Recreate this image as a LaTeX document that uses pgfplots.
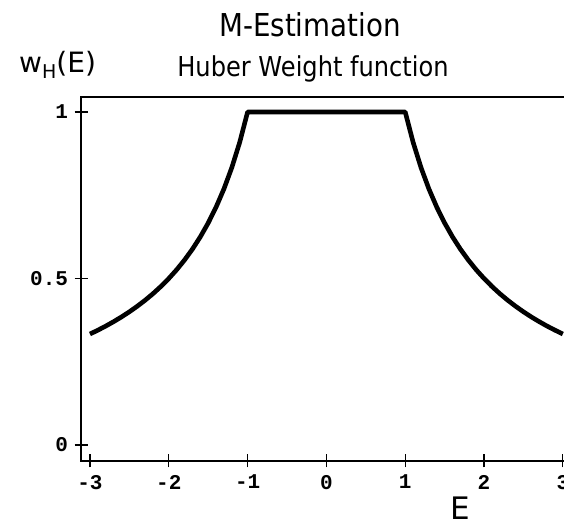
\documentclass[border=0pt]{standalone}
\usepackage{fontspec}
\setmainfont{DejaVu Sans}
\newfontfamily\titlefont[FakeStretch=0.88]{DejaVu Sans}
\newfontfamily\tickfont{Liberation Mono}
\usepackage{pgfplots}
\pgfplotsset{compat=1.18}

\begin{document}
\begin{tikzpicture}[x=1pt,y=1pt]
\useasboundingbox (0,0) rectangle (564,526);
\begin{axis}[
  scale only axis,
  at={(81pt,65pt)}, anchor=south west,
  width=484.2pt, height=364pt,
  xmin=-3.114, xmax=3.03,
  ymin=-0.048, ymax=1.045,
  xtick={-3,-2,-1,0,1,2,3},
  ytick={0,0.5,1},
  yticklabels={0,0.5,1},
  tick pos=left,
  tick align=center,
  major tick length=13pt,
  tick style={line width=1.3pt, black},
  axis line style={line width=1.3pt},
  /pgf/number format/assume math mode=true,
  ticklabel style={font=\tickfont\bfseries\fontsize{21}{21}\selectfont},
  xticklabel style={yshift=-4pt},
  yticklabel style={xshift=-3pt},
  clip=false,
]
% Huber weight: 1 inside |E| <= 1, falling as 1/|E| outside
\addplot[black, line width=4.6pt, line join=round] coordinates {
  (-3.0,0.3333) (-2.9,0.3448) (-2.8,0.3571) (-2.7,0.3704) (-2.6,0.3846)
  (-2.5,0.4000) (-2.4,0.4167) (-2.3,0.4348) (-2.2,0.4545) (-2.1,0.4762)
  (-2.0,0.5000) (-1.9,0.5263) (-1.8,0.5556) (-1.7,0.5882) (-1.6,0.6250)
  (-1.5,0.6667) (-1.4,0.7143) (-1.3,0.7692) (-1.2,0.8333) (-1.1,0.9091)
  (-1.0,1.0000) (1.0,1.0000)
  (1.1,0.9091) (1.2,0.8333) (1.3,0.7692) (1.4,0.7143) (1.5,0.6667)
  (1.6,0.6250) (1.7,0.5882) (1.8,0.5556) (1.9,0.5263) (2.0,0.5000)
  (2.1,0.4762) (2.2,0.4545) (2.3,0.4348) (2.4,0.4167) (2.5,0.4000)
  (2.6,0.3846) (2.7,0.3704) (2.8,0.3571) (2.9,0.3448) (3.0,0.3333)
};
\end{axis}
\node[font=\titlefont\fontsize{31.5}{31.5}\selectfont, anchor=base, inner sep=0pt] at (310,489) {M-Estimation};
\node[font=\titlefont\fontsize{27.4}{27.4}\selectfont, anchor=base, inner sep=0pt] at (313,449) {Huber Weight function};
\node[font=\fontsize{28}{28}\selectfont, anchor=base west, inner sep=0pt] at (19,453) {w\raisebox{-0.35ex}{\fontsize{19}{19}\selectfont H}(E)};
\node[font=\fontsize{31}{31}\selectfont, anchor=base west, inner sep=0pt] at (450,6) {E};
\end{tikzpicture}
\end{document}
